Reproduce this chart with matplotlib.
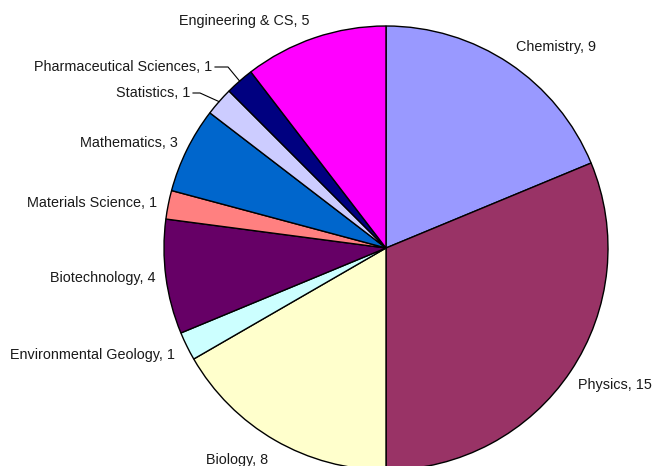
import numpy as np
import matplotlib
matplotlib.use('Agg')
import matplotlib.pyplot as plt

plt.rcParams['font.family'] = ['Liberation Sans', 'DejaVu Sans']

# data
fields = ['Chemistry', 'Physics', 'Biology', 'Environmental Geology', 'Biotechnology',
          'Materials Science', 'Mathematics', 'Statistics', 'Pharmaceutical Sciences',
          'Engineering & CS']
counts = [9, 15, 8, 1, 4, 1, 3, 1, 1, 5]
colors = ['#9999FF', '#993366', '#FFFFCC', '#CCFFFF', '#660066',
          '#FF8080', '#0066CC', '#CCCCFF', '#000080', '#FF00FF']

# label placement (pixel coords, y from top), alignment
label_pos = [(556, 47, 'center'), (578, 385, 'left'), (268, 460, 'right'),
             (175, 355, 'right'), (155, 278, 'right'), (157, 203, 'right'),
             (178, 143, 'right'), (190, 93, 'right'), (212, 67, 'right'),
             (244, 21, 'center')]
leaders = {7: 200, 8: 228}  # elbow x for leader lines

W, H = 653, 466
cx, cy, r = 386, 248, 222

fig = plt.figure(figsize=(W / 100, H / 100), dpi=100)
ax = fig.add_axes([0, 0, 1, 1])
ax.set_xlim(0, W)
ax.set_ylim(0, H)
ax.set_aspect('equal')
ax.axis('off')

ax.pie(counts, colors=colors, startangle=90, counterclock=False,
       center=(cx, H - cy), radius=r,
       wedgeprops=dict(edgecolor='black', linewidth=1.0))
ax.set_xlim(0, W)
ax.set_ylim(0, H)

total = sum(counts)
cum = np.cumsum([0] + counts)
for i, (name, n) in enumerate(zip(fields, counts)):
    x, y, ha = label_pos[i]
    ax.text(x, H - y, f'{name}, {n}', ha=ha, va='center', fontsize=10.4, color='#1a1a1a')
    if i in leaders:
        mid = (cum[i] + n / 2) / total * 360
        ang = np.radians(90 - mid)
        ex, ey = cx + r * np.cos(ang), H - (cy - r * np.sin(ang))
        ax.plot([x + 3, leaders[i], ex], [H - y, H - y, ey], color='black', lw=0.8)

fig.savefig('out.png', dpi=100)
